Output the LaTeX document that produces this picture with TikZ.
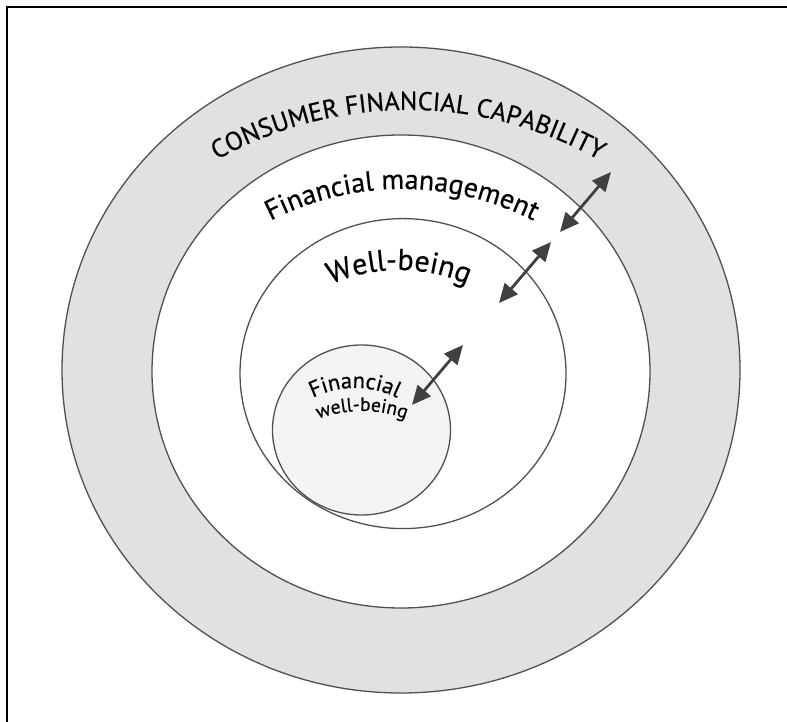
\documentclass[tikz,border=0pt]{standalone}
\usepackage{fontspec}
\setmainfont{PT Sans}[FakeBold=0.5]
\usetikzlibrary{shapes.geometric,arrows.meta,decorations.text}
\definecolor{ringline}{HTML}{505050}
\definecolor{ringfill}{HTML}{E1E1E1}
\definecolor{corefill}{HTML}{F4F4F4}
\definecolor{arrowgray}{HTML}{404040}
\begin{document}
\begin{tikzpicture}[x=1pt,y=1pt,
  ring/.style={ellipse, draw=ringline, line width=1.3pt, inner sep=0pt, outer sep=0pt},
  link/.style={{Triangle[length=19pt,width=17pt]}-{Triangle[length=19pt,width=17pt]}, line width=2.8pt, draw=arrowgray, color=arrowgray},
  arctext/.style={decorate, decoration={text along path, text align=center, text color=black}}
]
\useasboundingbox (0,0) rectangle (787,722);
\fill[white] (0,0) rectangle (787,722);
% frame (left and top edges only)
\draw[black, line width=2pt] (6.5,0) -- (6.5,714.5) -- (787,714.5);

% circles
\node[ring, fill=ringfill, minimum width=678pt, minimum height=646pt] (capability) at (401,352) {};
\node[ring, fill=white, minimum width=498pt, minimum height=473pt] (management) at (401,350.5) {};
\node[ring, fill=corefill, minimum width=178pt, minimum height=170pt] (fwb) at (361.5,292) {};
\node[ring, minimum width=326pt, minimum height=310pt] (wellbeing) at (403,348.4) {};

% curved labels
\path[arctext, decoration={text={|\fontsize{26}{30}\selectfont|CONSUMER FINANCIAL CAPABILITY}}]
  (408,222) ++(150:390) arc[start angle=150, end angle=30, radius=390];
\path[arctext, decoration={text={|\fontsize{28}{33}\selectfont|Financial management}}]
  (402,245) ++(150:288) arc[start angle=150, end angle=30, radius=288];
\path[arctext, decoration={text={|\fontsize{30}{36}\selectfont|Well-being}}]
  (399,282) ++(150:170) arc[start angle=150, end angle=30, radius=170];
\path[arctext, decoration={text={|\fontsize{22.5}{27}\selectfont|Financial}}]
  (355,239) ++(150:95) arc[start angle=150, end angle=30, radius=95];
\path[arctext, decoration={text={|\fontsize{19.5}{23}\selectfont|well-being}}]
  (362,186) ++(150:125) arc[start angle=150, end angle=30, radius=125];

% arrows
\coordinate (a1s) at (560,490); \coordinate (a1e) at (611,550);
\coordinate (a2s) at (499,419); \coordinate (a2e) at (551,480);
\coordinate (a3s) at (412,317); \coordinate (a3e) at (463,377);
\draw[link] (a1s) -- (a1e);
\draw[link] (a2s) -- (a2e);
\draw[link] (a3s) -- (a3e);
\end{tikzpicture}
\end{document}
